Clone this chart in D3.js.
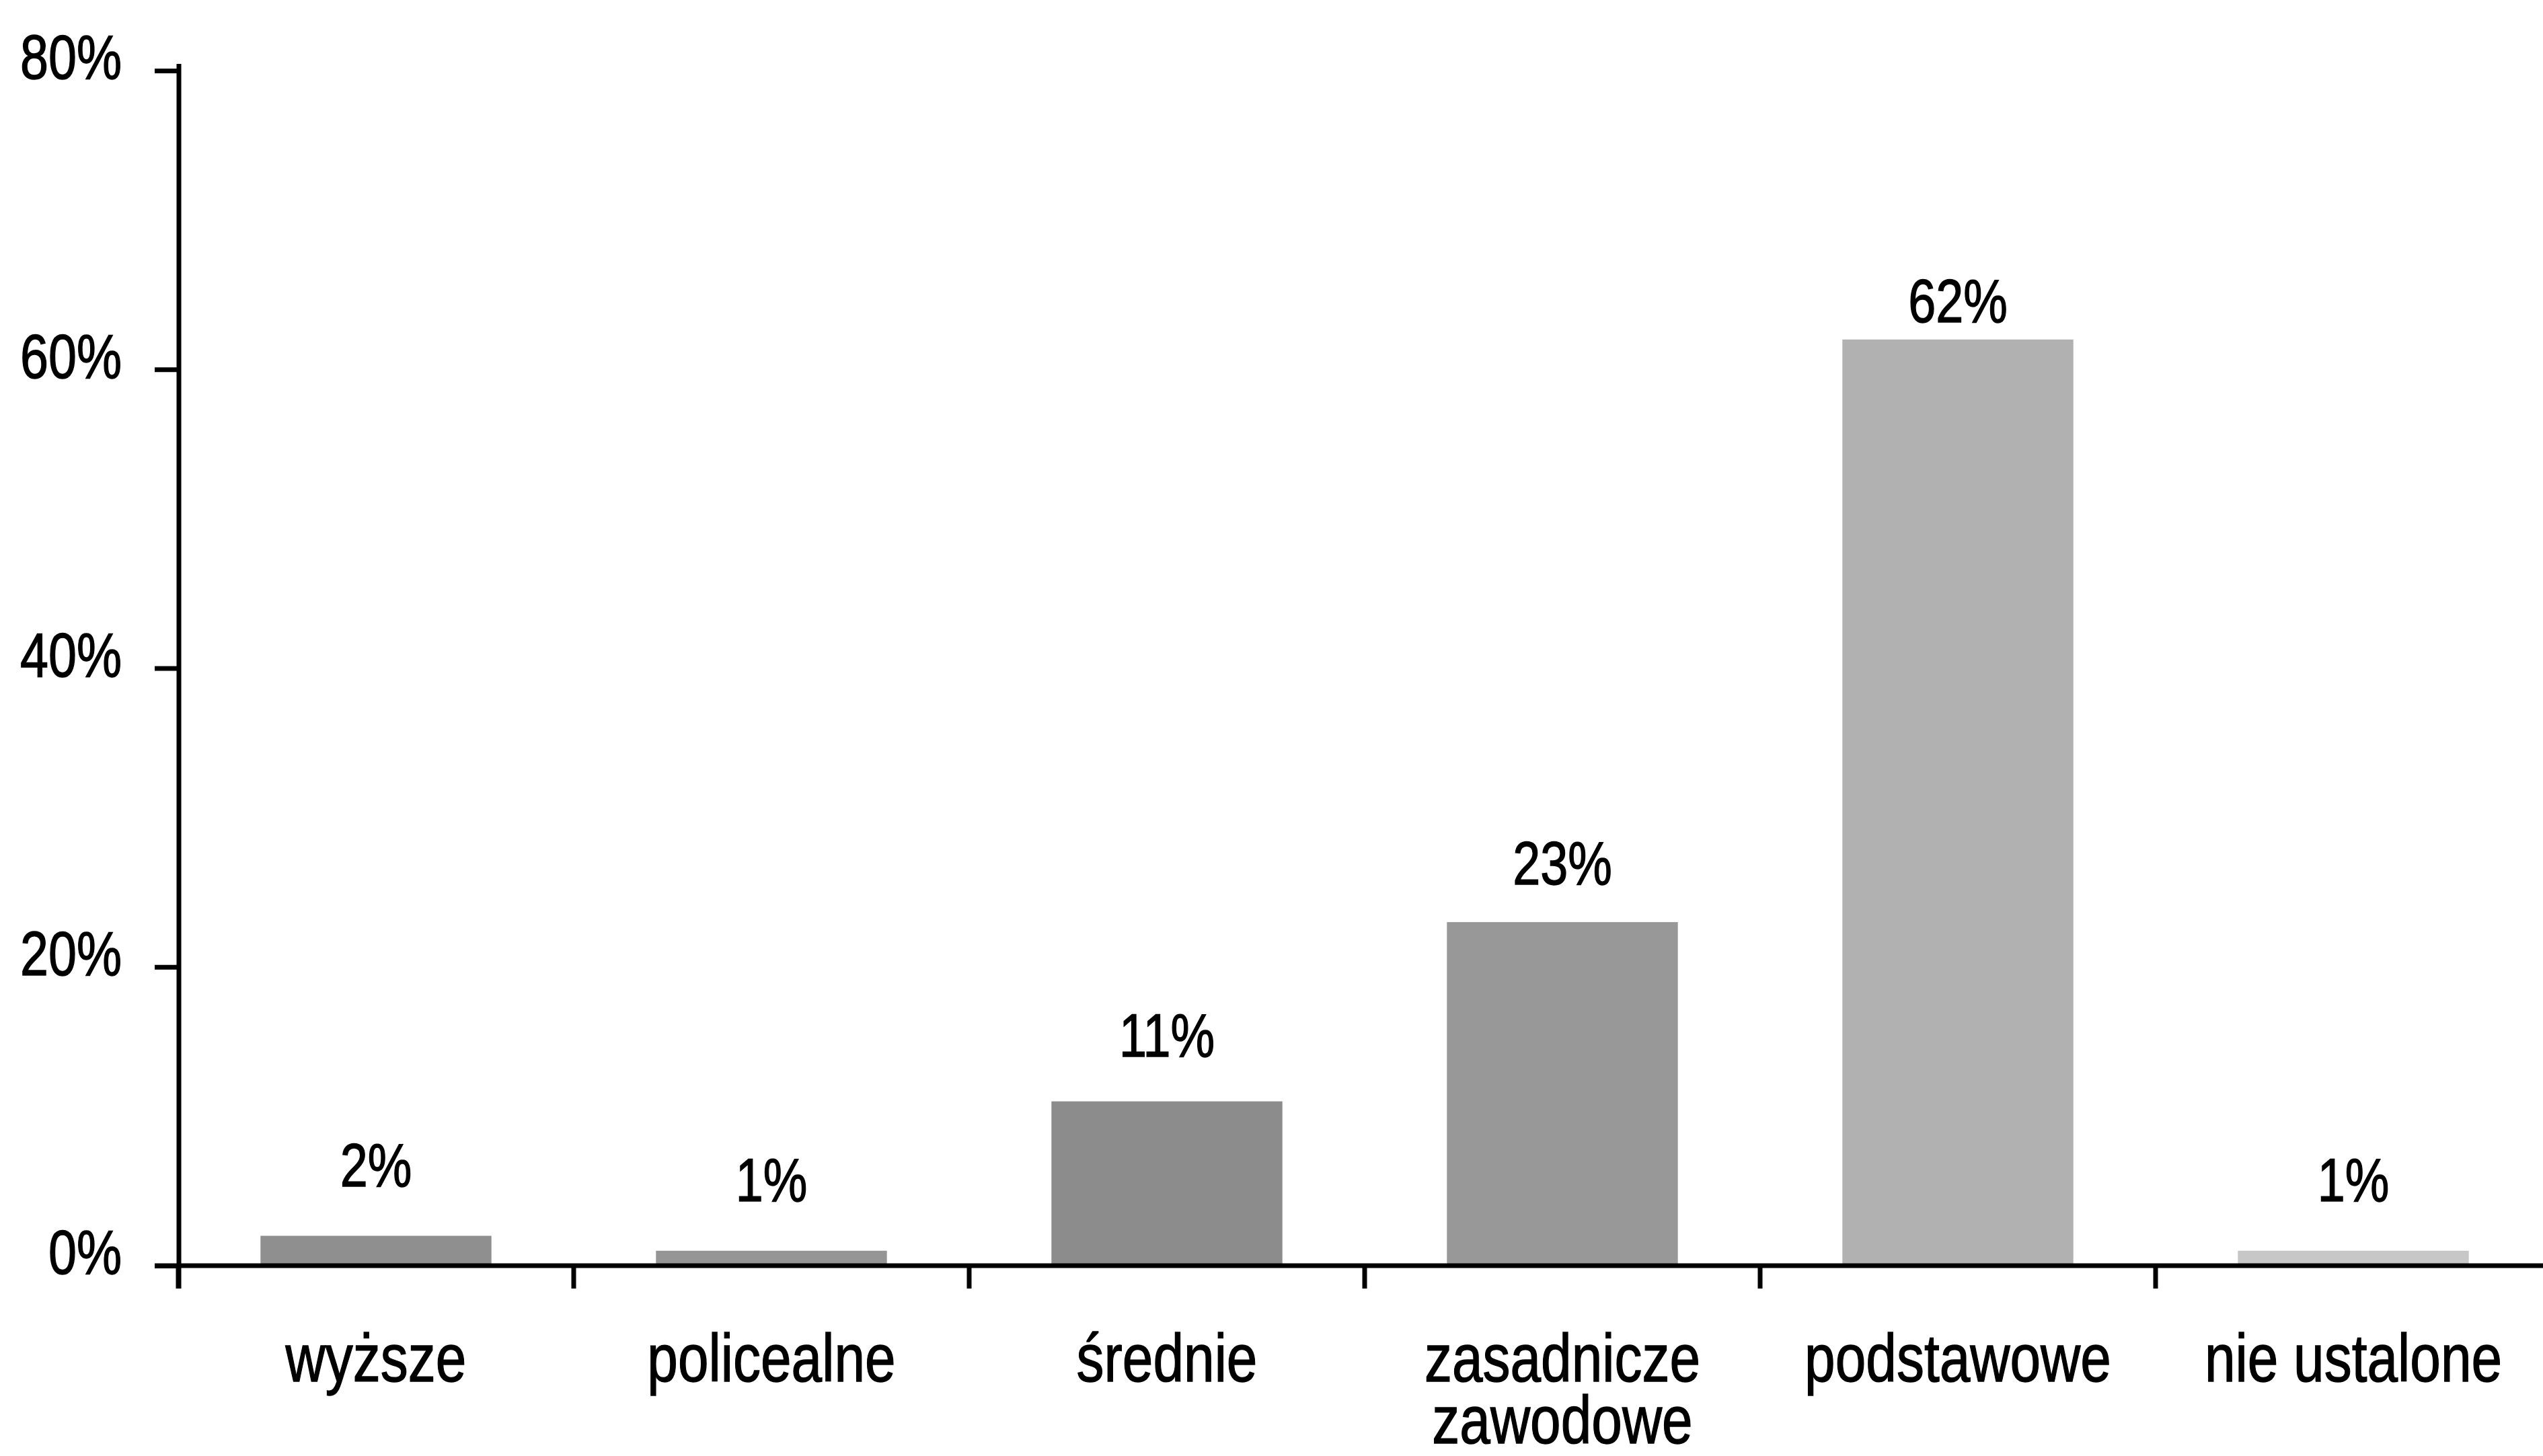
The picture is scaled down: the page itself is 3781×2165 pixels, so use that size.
<!DOCTYPE html>
<html>
<head>
<meta charset="utf-8">
<script src="https://cdn.jsdelivr.net/npm/d3@7"></script>
<style>
  html, body { margin: 0; padding: 0; background: #ffffff; }
  svg { display: block; }
  text { font-family: 'Liberation Sans', Arial, sans-serif; fill: #000; stroke: #000; stroke-width: 1.4px; }
</style>
</head>
<body>
<script>
// ---- data ----
const categories = ["wyższe", "policealne", "średnie", "zasadnicze\nzawodowe", "podstawowe", "nie ustalone"];
const values = [2, 1, 11, 23, 62, 1];
const valueLabels = ["2%", "1%", "11%", "23%", "62%", "1%"];
const yTicks = [0, 20, 40, 60, 80];
const yTickLabels = ["0%", "20%", "40%", "60%", "80%"];
const barColors = ["#8f8f8f", "#959595", "#8c8c8c", "#989898", "#b1b1b1", "#c7c7c7"];

// ---- layout ----
const W = 3781, H = 2165;
const NARROW = 0.82; // emulate a condensed face
const FONT = "'Liberation Sans', Arial, sans-serif";
const svg = d3.select("body").append("svg").attr("width", W).attr("height", H);

const x = d3.scaleBand().domain(categories).range([265, 3793]).padding(0);
const y = d3.scaleLinear().domain([0, 80]).range([1882, 105]);
const color = d3.scaleOrdinal().domain(categories).range(barColors);
const barFrac = 0.584;
const SW = 7;

// bars
svg.append("g").selectAll("rect")
  .data(categories)
  .join("rect")
  .attr("x", (c) => x(c) + x.bandwidth() * (1 - barFrac) / 2)
  .attr("width", x.bandwidth() * barFrac)
  .attr("y", (c, i) => y(values[i]))
  .attr("height", (c, i) => y(0) - y(values[i]))
  .attr("fill", (c) => color(c));

// value labels
svg.append("g").selectAll("g")
  .data(categories)
  .join("g")
  .attr("transform", (c, i) => `translate(${x(c) + x.bandwidth() / 2},${y(values[i] * 0.964) - 75}) scale(${NARROW},1)`)
  .append("text")
  .attr("text-anchor", "middle")
  .attr("font-size", 90)
  .text((c, i) => valueLabels[i]);

// y axis
const yAxis = d3.axisLeft(y)
  .tickValues(yTicks)
  .tickFormat((d, i) => yTickLabels[i])
  .tickSize(36)
  .tickSizeOuter(0)
  .tickPadding(47);
const gy = svg.append("g").attr("transform", "translate(266,0)").call(yAxis);
gy.select(".domain").attr("stroke", "#000").attr("stroke-width", SW)
  .attr("d", `M0,${y(80) - 10}V${y(0) + 34}`);
gy.selectAll(".tick line").attr("stroke", "#000").attr("stroke-width", SW);
gy.selectAll(".tick text")
  .attr("x", 0)
  .attr("dy", "0.13em")
  .attr("transform", `translate(-85,0) scale(${NARROW},1)`)
  .attr("font-size", 92)
  .style("font-family", FONT)
  .attr("fill", "#000");

// x axis
const gx = svg.append("g");
gx.append("line")
  .attr("x1", 230).attr("x2", x.range()[1])
  .attr("y1", y(0)).attr("y2", y(0))
  .attr("stroke", "#000").attr("stroke-width", SW);
const boundaries = categories.map((c) => x(c)).concat([x.range()[1]]);
gx.selectAll("line.tick")
  .data(boundaries)
  .join("line")
  .attr("class", "tick")
  .attr("x1", (d) => d).attr("x2", (d) => d)
  .attr("y1", y(0)).attr("y2", y(0) + 34)
  .attr("stroke", "#000").attr("stroke-width", SW);

// category labels
const cl = gx.selectAll("g.cat")
  .data(categories)
  .join("g")
  .attr("class", "cat")
  .attr("transform", (c) => `translate(${x(c) + x.bandwidth() / 2},2054) scale(${NARROW},1)`)
  .append("text")
  .attr("text-anchor", "middle")
  .attr("font-size", 100);
cl.selectAll("tspan")
  .data((c) => c.split("\n"))
  .join("tspan")
  .attr("x", 0)
  .attr("y", (d, i) => i * 92)
  .text((d) => d);
</script>
</body>
</html>
